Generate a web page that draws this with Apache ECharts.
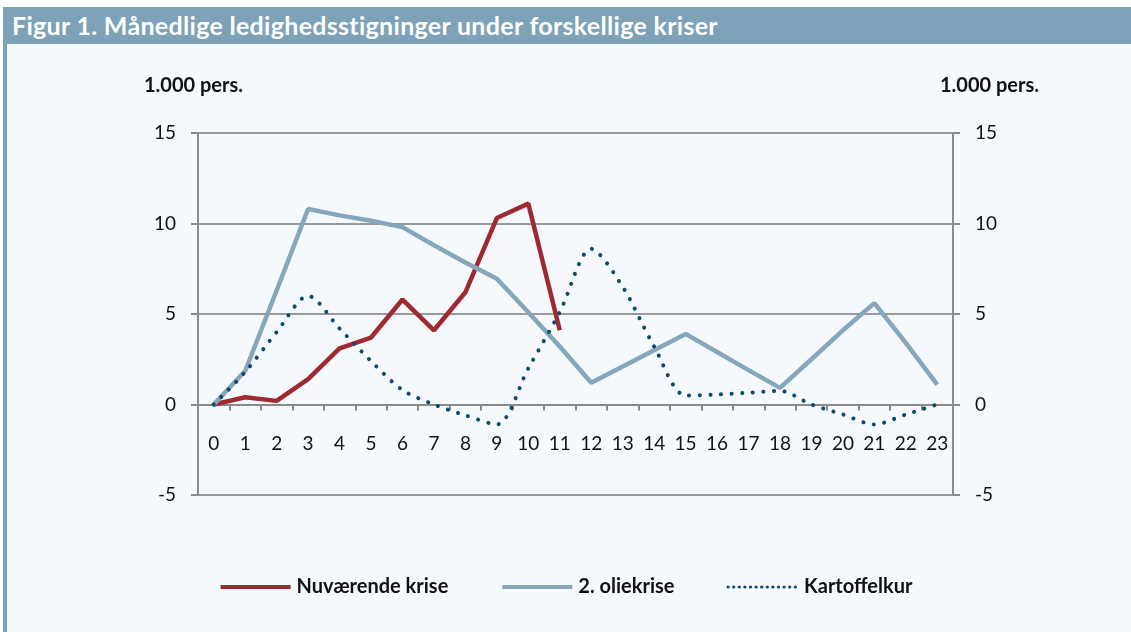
<!DOCTYPE html>
<html>
<head>
<meta charset="utf-8">
<script src="https://cdn.jsdelivr.net/npm/echarts@6/dist/echarts.min.js"></script>
<style>
html,body{margin:0;padding:0;background:#fff;}
#wrap{position:absolute;left:3px;top:7px;width:1128px;height:625px;background:#f5f9fd;}
#head{position:absolute;left:0;top:0;width:1128px;height:37px;background:#7da2b8;color:#fff;
  font-family:Lato,sans-serif;font-weight:bold;font-size:25px;letter-spacing:0.3px;line-height:37px;padding-left:9px;box-sizing:border-box;}
#bar{position:absolute;left:0;top:37px;width:4px;height:588px;background:#7da2b8;}
#chart{position:absolute;left:0;top:0;width:1131px;height:632px;}
</style>
</head>
<body>
<div id="wrap"><div id="head">Figur 1. Månedlige ledighedsstigninger under forskellige kriser</div><div id="bar"></div></div>
<div id="chart"></div>
<script>
var months = ['0','1','2','3','4','5','6','7','8','9','10','11','12','13','14','15','16','17','18','19','20','21','22','23'];
var nuvaerende = [0, 0.4, 0.2, 1.4, 3.1, 3.7, 5.8, 4.1, 6.2, 10.3, 11.1, 4.1];
var oliekrise = [0, 1.85, 6.3, 10.8, 10.45, 10.15, 9.8, 8.8, 7.85, 6.95, 5.1, 3.2, 1.2, 2.1, 3.0, 3.9, 2.9, 1.9, 0.92, 2.5, 4.1, 5.6, 3.4, 1.1];
var kartoffelkur = [0, 1.8, 4.0, 6.0, 4.2, 2.4, 0.8, 0.0, -0.6, -1.1, 2.0, 5.1, 8.6, 6.5, 3.2, 0.5, 0.55, 0.65, 0.75, 0, -0.55, -1.1, -0.55, 0];

(function(){
    var myChart = echarts.init(document.getElementById('chart'));
    var yAxisBase = function(pos){
        return {
            type: 'value', position: pos, min: -5, max: 15, interval: 5,
            name: '1.000 pers.', nameGap: 37,
            nameTextStyle: {fontFamily: 'Lato', fontWeight: 'bold', fontSize: 20, color: '#111',
                align: pos == 'left' ? 'right' : 'left', padding: pos == 'left' ? [0, -45, 0, 0] : [0, 0, 0, -13]},
            axisLine: {show: true, lineStyle: {color: '#8a8a8a', width: 2}},
            axisTick: {show: true, length: 7, lineStyle: {color: '#8a8a8a', width: 2}},
            axisLabel: {fontFamily: 'Lato', fontSize: 19, color: '#111', margin: 22},
            splitLine: {show: pos == 'left', lineStyle: {color: '#9a9a9a', width: 2}}
        };
    };
    var option = {
        animation: false,
        grid: {left: 198, right: 178, top: 133, bottom: 137},
        legend: {
            bottom: 30, left: 'center', itemWidth: 70, itemHeight: 1, itemGap: 52,
            textStyle: {fontFamily: 'Lato', fontWeight: 'bold', fontSize: 20, color: '#111', padding: [0, 0, 0, 1]},
            data: [
                {name: 'Nuværende krise', lineStyle: {width: 4}},
                {name: '2. oliekrise', lineStyle: {width: 4}},
                {name: 'Kartoffelkur', lineStyle: {type: [0.1, 5.5], width: 3.2, cap: 'round'}}
            ]
        },
        xAxis: {
            type: 'category', data: months, boundaryGap: true,
            axisLine: {onZero: true, lineStyle: {color: '#8a8a8a', width: 2}},
            axisTick: {show: true, length: 6, lineStyle: {color: '#8a8a8a', width: 2}},
            axisLabel: {fontFamily: 'Lato', fontSize: 19, color: '#111', margin: -61, interval: 0}
        },
        yAxis: [yAxisBase('left'), yAxisBase('right')],
        series: [
            {
                name: 'Nuværende krise', type: 'line', data: nuvaerende, symbol: 'none',
                itemStyle: {color: '#9e2a2f'},
                lineStyle: {color: '#9e2a2f', width: 4.5}
            },
            {
                name: '2. oliekrise', type: 'line', data: oliekrise, symbol: 'none',
                itemStyle: {color: '#85a6bb'},
                lineStyle: {color: '#85a6bb', width: 4.5}
            },
            {
                name: 'Kartoffelkur', type: 'line', data: kartoffelkur, symbol: 'none', smooth: 0.3,
                itemStyle: {color: '#0d4a72'},
                lineStyle: {color: '#0d4a72', width: 4, type: [0.1, 10.5], cap: 'round'}
            }
        ]
    };
    myChart.setOption(option);
})();
</script>
</body>
</html>
